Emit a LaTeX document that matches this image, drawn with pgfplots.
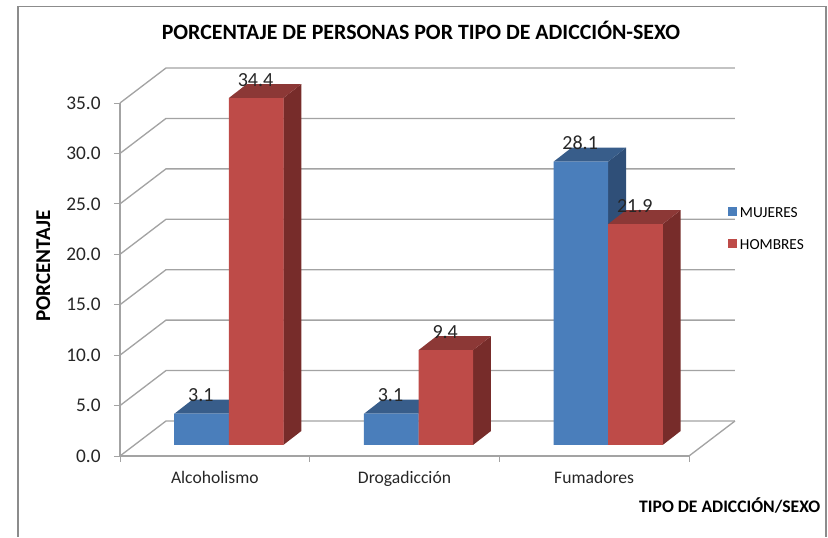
\documentclass[border=0pt]{standalone}
\usepackage{pgfplots}
\pgfplotsset{compat=1.18}
\usepackage{fontspec}
\setmainfont{Carlito}
\definecolor{gridc}{HTML}{A3A3A3}
\definecolor{framec}{HTML}{8C8C8C}
\definecolor{bluef}{HTML}{4A7EBB}
\definecolor{bluet}{HTML}{385D8A}
\definecolor{blues}{HTML}{2F4F78}
\definecolor{redf}{HTML}{BE4B48}
\definecolor{redt}{HTML}{8C3836}
\definecolor{reds}{HTML}{772C2A}
% 1 reference pixel = 0.75pt
\newcommand{\px}{0.75pt}
% depth of a bar, in data units: dx = 18px, dy = 14px
\newcommand{\bdx}{0.0949}
\newcommand{\bdy}{1.3875}
% side and top face of a bar: #1 left x, #2 right x, #3 value, #4 side colour, #5 top colour
\newcommand{\faces}[5]{%
  \addplot[forget plot,draw=none,fill=#4,xshift=14*\px,yshift=11*\px] coordinates {(#2,0) (#2+\bdx,\bdy) (#2+\bdx,#3+\bdy) (#2,#3)} --cycle;
  \addplot[forget plot,draw=none,fill=#5,xshift=14*\px,yshift=11*\px] coordinates {(#1,#3) (#1+\bdx,#3+\bdy) (#2+\bdx,#3+\bdy) (#2,#3)} --cycle;
}
\begin{document}
\begin{tikzpicture}[x=1pt,y=1pt]
\path (0,0) rectangle (621,402.75);
\draw[framec,line width=0.8pt] (13.5,0) -- (13.5,398) -- (619.5,398) -- (619.5,0);
\begin{axis}[
  at={(90pt,60.75pt)},anchor=south west,
  scale only axis,width=426.75pt,height=264.75pt,
  xmin=-0.5,xmax=2.5,ymin=0,ymax=35,clip=false,
  axis x line=bottom,axis y line=left,
  axis line style={gridc,line width=1pt,-},
  x axis line style={-},y axis line style={-},
  xtick={-0.5,0.5,1.5,2.5},xticklabels={},
  extra x ticks={0,1,2},extra x tick labels={Alcoholismo,Drogadicción,Fumadores},
  extra x tick style={major tick length=0pt,xticklabel style={font=\fontsize{13.2}{14}\selectfont,text=black!85,yshift=-8pt}},
  ytick={0,5,...,35},
  major tick length=4.5pt,
  tick align=outside,
  tick style={gridc,line width=0.7pt},
  yticklabel style={/pgf/number format/fixed,/pgf/number format/fixed zerofill,/pgf/number format/precision=1,font=\fontsize{14.5}{15}\selectfont,text=black!85,xshift=-6.5pt},
  /pgf/number format/assume math mode=true,
  title={PORCENTAJE DE PERSONAS POR TIPO DE ADICCIÓN-SEXO},
  title style={at={(axis description cs:0.529,1.184)},anchor=center,font=\bfseries\fontsize{16.4}{17}\selectfont},
  xlabel={TIPO DE ADICCIÓN/SEXO},
  xlabel style={at={(axis description cs:1.239,-0.14)},anchor=east,font=\bfseries\fontsize{13.2}{14}\selectfont},
  ylabel={PORCENTAJE},
  ylabel style={at={(axis description cs:-0.135,0.538)},anchor=center,rotate=0,font=\bfseries\fontsize{15.8}{16}\selectfont},
  legend cell align=left,
  legend style={at={(axis description cs:1.0685,0.642)},anchor=west,draw=none,fill=none,inner sep=0pt,outer sep=0pt,
    font=\fontsize{11.5}{12}\selectfont,row sep=11pt,/tikz/every even column/.style={column sep=3pt}},
]
% back wall, side wall and floor
\pgfplotsinvokeforeach{0,5,...,35}{%
  \addplot[forget plot,gridc,line width=1pt] coordinates {(-0.5,#1) (-0.2575,#1+3.47) (2.7425,#1+3.47)};
}
\addplot[forget plot,gridc,line width=1pt] coordinates {(2.5,0) (2.7425,3.47)};

\faces{-0.2873}{0}{3.1}{blues}{bluet}
\faces{1-0.2873}{1}{3.1}{blues}{bluet}
\faces{2-0.2873}{2}{28.1}{blues}{bluet}
\addplot[ybar,bar width=41pt,bar shift=-20.5pt,draw=none,fill=bluef,xshift=14*\px,yshift=11*\px,
  nodes near coords,nodes near coords align={vertical},
  every node near coord/.append style={/pgf/number format/fixed,/pgf/number format/fixed zerofill,/pgf/number format/precision=1,font=\fontsize{15}{15}\selectfont,text=black!85,xshift=-21pt,yshift=7.6pt,inner sep=1pt},
  area legend,legend image code/.code={\fill[bluef] (0pt,-10pt) rectangle (7pt,-3.2pt);}]
  coordinates {(0,3.1) (1,3.1) (2,28.1)};
\addlegendentry{MUJERES}
\faces{0}{0.2873}{34.4}{reds}{redt}
\faces{1}{1.2873}{9.4}{reds}{redt}
\faces{2}{2.2873}{21.9}{reds}{redt}
\addplot[ybar,bar width=41pt,bar shift=20.5pt,draw=none,fill=redf,xshift=14*\px,yshift=11*\px,
  nodes near coords,nodes near coords align={vertical},
  every node near coord/.append style={/pgf/number format/fixed,/pgf/number format/fixed zerofill,/pgf/number format/precision=1,font=\fontsize{15}{15}\selectfont,text=black!85,xshift=20pt,yshift=7.6pt,inner sep=1pt},
  area legend,legend image code/.code={\fill[redf] (0pt,-10pt) rectangle (7pt,-3.2pt);}]
  coordinates {(0,34.4) (1,9.4) (2,21.9)};
\addlegendentry{HOMBRES}
\end{axis}
\end{tikzpicture}
\end{document}
